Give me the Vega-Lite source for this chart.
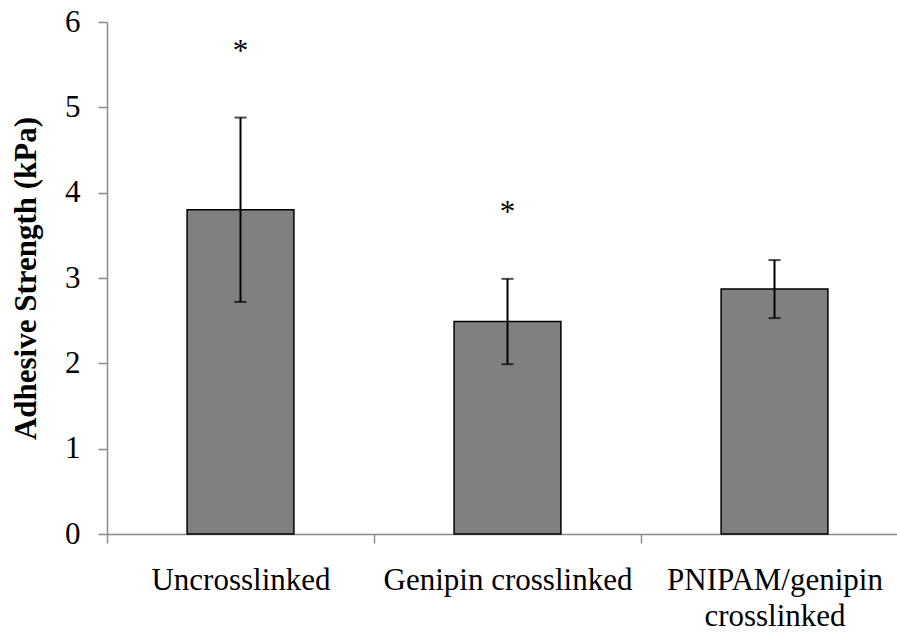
{
  "$schema": "https://vega.github.io/schema/vega-lite/v6.json",
  "autosize": {"type": "none"},
  "padding": {"left": 107, "top": 22, "right": 0, "bottom": 101},
  "width": 790,
  "height": 512,
  "background": "white",
  "data": {
    "values": [
      {"group": "Uncrosslinked", "mean": 3.8, "lower": 2.72, "upper": 4.88, "sig": "*"},
      {"group": "Genipin crosslinked", "mean": 2.49, "lower": 1.99, "upper": 2.99, "sig": "*"},
      {"group": "PNIPAM/genipin crosslinked", "mean": 2.87, "lower": 2.53, "upper": 3.21, "sig": ""}
    ]
  },
  "encoding": {
    "x": {
      "field": "group",
      "type": "nominal",
      "sort": null,
      "scale": {"range": [0, 801], "paddingInner": 0, "paddingOuter": 0},
      "axis": {
        "title": null,
        "labelAngle": 0,
        "tickBand": "extent",
        "labelPadding": 22,
        "labelLimit": 0,
        "labelLineHeight": 36,
        "labelExpr": "datum.label == 'PNIPAM/genipin crosslinked' ? ['PNIPAM/genipin', 'crosslinked'] : datum.label"
      }
    }
  },
  "layer": [
    {
      "mark": {"type": "bar", "width": {"band": 0.4}, "fill": "#808080", "stroke": "#000000", "strokeWidth": 1.5},
      "encoding": {
        "y": {
          "field": "mean",
          "type": "quantitative",
          "scale": {"domain": [0, 6], "nice": false},
          "axis": {
            "title": "Adhesive Strength (kPa)",
            "values": [0, 1, 2, 3, 4, 5, 6],
            "format": "d",
            "labelPadding": 18,
            "titlePadding": 22
          }
        }
      }
    },
    {
      "mark": {"type": "rule", "color": "#000000", "strokeWidth": 2},
      "encoding": {
        "y": {"field": "lower", "type": "quantitative"},
        "y2": {"field": "upper"}
      }
    },
    {
      "mark": {"type": "tick", "orient": "horizontal", "color": "#000000", "size": 12, "thickness": 2},
      "encoding": {"y": {"field": "lower", "type": "quantitative"}}
    },
    {
      "mark": {"type": "tick", "orient": "horizontal", "color": "#000000", "size": 12, "thickness": 2},
      "encoding": {"y": {"field": "upper", "type": "quantitative"}}
    },
    {
      "mark": {"type": "text", "font": "Liberation Serif", "fontSize": 31, "color": "#000000", "baseline": "alphabetic", "dy": -57},
      "encoding": {
        "y": {"field": "upper", "type": "quantitative"},
        "text": {"field": "sig"}
      }
    }
  ],
  "config": {
    "view": {"stroke": null},
    "axis": {
      "grid": false,
      "domainColor": "#8c8c8c",
      "domainWidth": 1.5,
      "tickColor": "#8c8c8c",
      "tickWidth": 1.5,
      "tickSize": 9,
      "labelFont": "Liberation Serif",
      "labelFontSize": 31,
      "labelColor": "#000000",
      "titleFont": "Liberation Serif",
      "titleFontSize": 31,
      "titleFontWeight": "bold",
      "titleColor": "#000000"
    }
  }
}
